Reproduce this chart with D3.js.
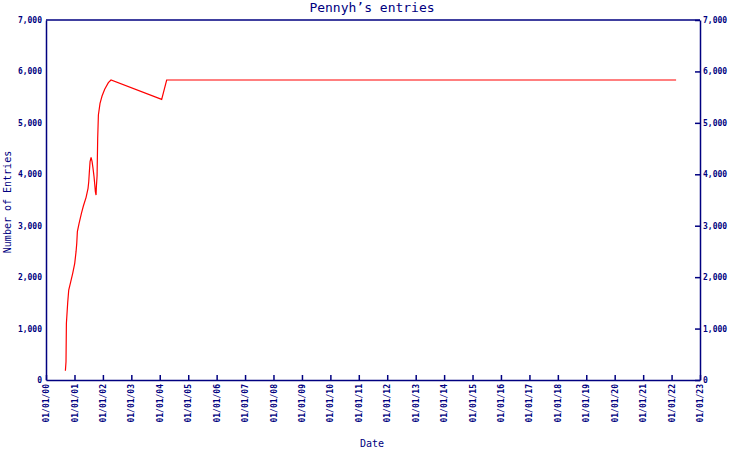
<!DOCTYPE html>
<html><head><meta charset="utf-8">
<script src="https://cdn.jsdelivr.net/npm/d3@7"></script>
<style>body{margin:0;background:#fff}svg{display:block}text{font-family:"DejaVu Sans Mono",monospace}</style>
</head><body><svg id="c" width="750" height="450"></svg>
<script>
const dates = ["2000-09-06","2000-09-14","2000-09-19","2000-10-06","2000-10-19","2000-11-14","2000-12-09","2001-01-04","2001-01-21","2001-01-30","2001-02-07","2001-03-01","2001-03-31","2001-04-25","2001-05-30","2001-06-24","2001-07-03","2001-07-11","2001-07-20","2001-08-02","2001-08-15","2001-08-27","2001-09-09","2001-09-18","2001-09-26","2001-10-05","2001-10-09","2001-10-18","2001-10-26","2001-11-04","2001-11-25","2001-12-21","2002-01-24","2002-03-12","2002-04-15","2004-01-26","2004-03-30","2022-02-28"];
const entries = [181,356,1102,1510,1750,1912,2074,2268,2495,2657,2884,3046,3241,3383,3552,3727,3856,4051,4245,4330,4245,4116,3954,3805,3662,3597,3759,3967,4699,5153,5380,5522,5652,5781,5833,5457,5833,5833];
const yTicks = [0,1000,2000,3000,4000,5000,6000,7000];
const titleText = "Pennyh\u2019s entries";
const xLabel = "Date", yLabel = "Number of Entries";

const navy = "#000080";
const svg = d3.select("#c");
const L = 46, R = 700, T = 20, B = 380;
const parse = d3.timeParse("%Y-%m-%d");
const x = d3.scaleTime().domain([new Date(2000,0,1), new Date(2023,0,1)]).range([L, R]);
const y = d3.scaleLinear().domain([0, 7000]).range([B, T]);
const fmtY = d3.format(",");
const xTicks = d3.range(2000, 2024).map(yr => new Date(yr,0,1));

// line
const data = dates.map((d,i)=>({d:parse(d), v:entries[i]}));
svg.append("path").datum(data)
  .attr("d", d3.line().x(d=>x(d.d)).y(d=>y(d.v)))
  .attr("fill","none").attr("stroke","#ff0000").attr("stroke-width",1.2);

// bottom axis (ticks inward)
const gx = svg.append("g").attr("transform",`translate(0,${B})`)
  .call(d3.axisBottom(x).tickValues(xTicks).tickSize(-5).tickSizeOuter(0).tickFormat(d3.timeFormat("%m/%d/%y")));
gx.select(".domain").attr("stroke",navy).attr("stroke-width",1.5);
gx.selectAll(".tick line").attr("stroke",navy).attr("stroke-width",1.5);
gx.selectAll(".tick text").attr("fill",navy).style("font-size","8px").style("font-weight","bold")
  .attr("transform","rotate(-90)").attr("text-anchor","end").attr("x",-4).attr("y",0).attr("dy","0.32em");

// left axis (no ticks)
const gl = svg.append("g").attr("transform",`translate(${L},0)`)
  .call(d3.axisLeft(y).tickValues(yTicks).tickSize(0).tickSizeOuter(0).tickPadding(4).tickFormat(fmtY));
gl.select(".domain").attr("stroke",navy).attr("stroke-width",1.5);
gl.selectAll(".tick text").attr("fill",navy).style("font-size","8px").style("font-weight","bold");

// right axis (ticks inward)
const gr = svg.append("g").attr("transform",`translate(${R},0)`)
  .call(d3.axisRight(y).tickValues(yTicks).tickSize(-5).tickSizeOuter(0).tickPadding(3).tickFormat(fmtY));
gr.select(".domain").attr("stroke",navy).attr("stroke-width",1.5);
gr.selectAll(".tick line").attr("stroke",navy).attr("stroke-width",1.5);
gr.selectAll(".tick text").attr("fill",navy).style("font-size","8px").style("font-weight","bold").attr("x",3);

// top frame
svg.append("line").attr("x1",L).attr("x2",R).attr("y1",T).attr("y2",T).attr("stroke",navy).attr("stroke-width",1.5);

// labels
svg.append("text").attr("x",372).attr("y",12).attr("text-anchor","middle").attr("fill",navy).style("font-size","13px").text(titleText);
svg.append("text").attr("x",372).attr("y",447).attr("text-anchor","middle").attr("fill",navy).style("font-size","10px").text(xLabel);
svg.append("text").attr("transform","translate(11,202) rotate(-90)").attr("text-anchor","middle").attr("fill",navy).style("font-size","10px").text(yLabel);
</script></body></html>
